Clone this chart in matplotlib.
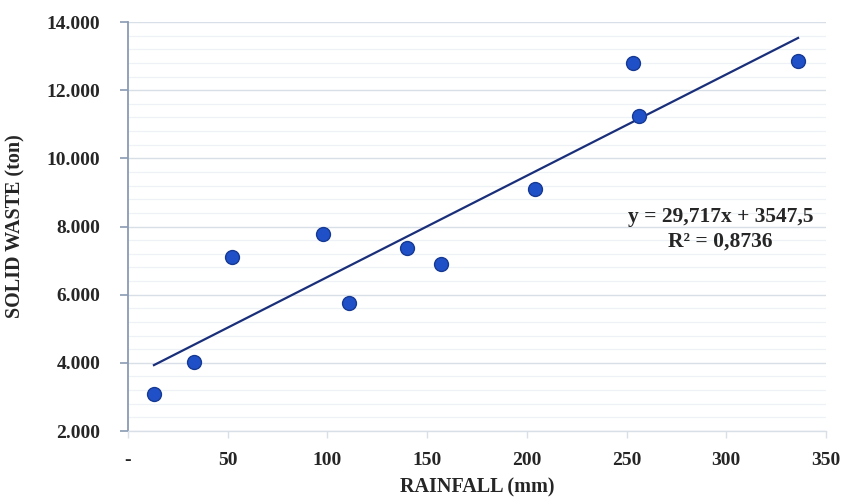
import numpy as np
import matplotlib
matplotlib.use("Agg")
import matplotlib.pyplot as plt
from matplotlib.ticker import FuncFormatter, MultipleLocator

# ---------------- data ----------------
rainfall = [13, 33, 52, 98, 111, 140, 157, 204, 253, 256, 336]
solid_waste = [3100, 4030, 7100, 7790, 5750, 7360, 6900, 9090, 12800, 11250, 12860]

slope = 29.717
intercept = 3547.5
r2 = 0.8736

x_ticks = [0, 50, 100, 150, 200, 250, 300, 350]
y_ticks = [2000, 4000, 6000, 8000, 10000, 12000, 14000]

plt.rcParams['font.family'] = ['Liberation Serif', 'DejaVu Serif']
text_color = "#262626"

fig = plt.figure(figsize=(8.45, 4.98), dpi=100)
ax = fig.add_axes([0.1515, 0.1345, 0.826, 0.8213])

# ---------- grid ----------
ax.yaxis.set_minor_locator(MultipleLocator(400))
ax.grid(which="major", axis="y", color="#d9dfe7", linewidth=1.0, zorder=0)
ax.grid(which="minor", axis="y", color="#eef1f5", linewidth=0.9, zorder=0)

# ---------- trend line ----------
x_fit = np.array([min(rainfall), max(rainfall)])
ax.plot(x_fit, slope * x_fit + intercept, color="#1a2f7a", linewidth=1.6, zorder=2)

# ---------- points ----------
ax.scatter(rainfall, solid_waste, s=100, color="#2050c8", edgecolors="#163a94",
           linewidths=1.0, zorder=3)

ax.set_xlim(0, 350)
ax.set_ylim(2000, 14000)
ax.set_xticks(x_ticks)
ax.set_yticks(y_ticks)

def fmt_thousands(v, pos):
    return f"{int(v):,}".replace(",", ".")

def fmt_x(v, pos):
    return "-" if v == 0 else f"{int(v)}"

ax.yaxis.set_major_formatter(FuncFormatter(fmt_thousands))
ax.xaxis.set_major_formatter(FuncFormatter(fmt_x))

for s in ["top", "right"]:
    ax.spines[s].set_visible(False)
ax.spines["left"].set_color("#8a9bb3")
ax.spines["left"].set_linewidth(1.3)
ax.spines["bottom"].set_color("#d9dfe7")
ax.spines["bottom"].set_linewidth(1.0)

ax.tick_params(axis="y", which="major", direction="out", length=6, width=1.2,
               color="#8a9bb3", labelsize=14, labelcolor=text_color, pad=14)
ax.tick_params(axis="y", which="minor", length=0)
ax.tick_params(axis="x", direction="out", length=5, width=1.0, color="#d9dfe7",
               labelsize=14, labelcolor=text_color, pad=10)
for lab in ax.get_xticklabels() + ax.get_yticklabels():
    lab.set_fontweight("bold")

ax.set_xlabel("RAINFALL (mm)", fontsize=14.5, fontweight="bold", color=text_color, labelpad=6.5)
ax.set_ylabel("SOLID WASTE (ton)", fontsize=14.5, fontweight="bold", color=text_color, labelpad=15)

eq = f"y = {slope:.3f}x + {intercept:.1f}".replace(".", ",")
rr = f"R² = {r2:.4f}".replace(".", ",")
ax.text(297, 8280, eq, ha="center", va="center", fontsize=15.5, fontweight="bold", color=text_color)
ax.text(297, 7560, rr, ha="center", va="center", fontsize=15.5, fontweight="bold", color=text_color)

fig.savefig("out.png", dpi=100)
